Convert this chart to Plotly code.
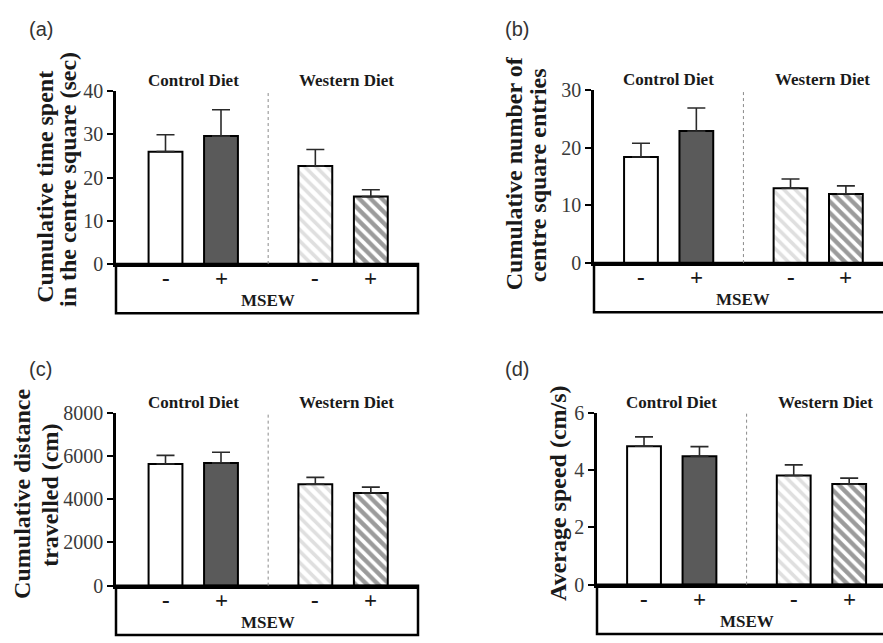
import plotly.graph_objects as go

# ---- data -------------------------------------------------------------
groups = ["CD MSEW-", "CD MSEW+", "WD MSEW-", "WD MSEW+"]
msew_labels = ["-", "+", "-", "+"]
bar_x = [1.0, 2.0, 3.7, 4.7]          # bar slots (control pair, western pair)
diet_labels = ["Control Diet", "Western Diet"]
diet_x = [1.5, 4.27]
divider_x = 2.85

time_centre = [26.0, 29.6, 22.7, 15.6]
time_centre_sem = [3.9, 6.1, 3.8, 1.6]

entries_centre = [18.4, 22.9, 13.0, 12.0]
entries_centre_sem = [2.4, 4.0, 1.6, 1.4]

distance = [5630, 5680, 4690, 4290]
distance_sem = [400, 490, 320, 270]

speed = [4.83, 4.48, 3.81, 3.51]
speed_sem = [0.33, 0.34, 0.37, 0.21]

# ---- styling ----------------------------------------------------------
W, H = 883, 643
SERIF = "Liberation Serif"
SANS = "Liberation Sans"
bar_styles = [
    dict(color="white"),
    dict(color="#5a5a5a"),
    dict(color="white", pattern=dict(shape="\\", fgcolor="#c0c0c0",
                                     bgcolor="white", size=8, solidity=0.45)),
    dict(color="white", pattern=dict(shape="\\", fgcolor="#383838",
                                     bgcolor="white", size=8, solidity=0.55)),
]

# panel geometry in pixels: axis left/right, top and zero line
panels = [
    dict(name="a", left=116, right=418, top=83, bottom=262, xr=[0.108, 5.55],
         y=time_centre, err=time_centre_sem, ymax=40, dtick=10,
         title=["Cumulative time spent", "in the centre square (sec)"],
         tx=[45, 68], ty=[182, 175], lab=(27, 19)),
    dict(name="b", left=594, right=883, top=82, bottom=261, xr=[0.152, 5.37],
         y=entries_centre, err=entries_centre_sem, ymax=30, dtick=10,
         title=["Cumulative number of", "centre square entries"],
         tx=[514, 538], ty=[168, 170], lab=(503, 19)),
    dict(name="c", left=116, right=418, top=416, bottom=595, xr=[0.108, 5.55],
         y=distance, err=distance_sem, ymax=8000, dtick=2000,
         title=["Cumulative distance", "travelled (cm)"],
         tx=[22, 50], ty=[500, 502], lab=(27, 371)),
    dict(name="d", left=597, right=883, top=416, bottom=594, xr=[0.152, 5.31],
         y=speed, err=speed_sem, ymax=6, dtick=2,
         title=["Average speed (cm/s)"],
         tx=[558], ty=[500], lab=(503, 371)),
]

fig = go.Figure()
layout = dict(width=W, height=H, autosize=False,
              margin=dict(l=0, r=0, t=0, b=0),
              paper_bgcolor="white", plot_bgcolor="white",
              showlegend=False, barmode="overlay")
shapes, annotations = [], []

for i, p in enumerate(panels):
    n = "" if i == 0 else str(i + 1)
    xa, ya = "x" + n, "y" + n
    ph = p["bottom"] - p["top"]

    for k in range(len(bar_x)):
        fig.add_trace(go.Bar(
            x=[bar_x[k]], y=[p["y"][k]], width=0.61, xaxis=xa, yaxis=ya,
            name=groups[k],
            marker=dict(line=dict(color="black", width=2), **bar_styles[k]),
            error_y=dict(type="data", symmetric=False, array=[p["err"][k]],
                         arrayminus=[0], color="#2a2a2a", thickness=1.6,
                         width=9),
            hoverinfo="skip",
        ))

    layout["xaxis" + n] = dict(
        domain=[p["left"] / W, min(p["right"] / W, 1.0)], range=p["xr"],
        anchor=ya, showline=True, linewidth=3, linecolor="black",
        showticklabels=False, ticks="", showgrid=False, zeroline=False,
        fixedrange=True)
    layout["yaxis" + n] = dict(
        domain=[1 - p["bottom"] / H, 1 - p["top"] / H],
        range=[0, p["ymax"]], tick0=0, dtick=p["dtick"], anchor=xa,
        showline=True, linewidth=2.5, linecolor="black",
        ticks="outside", ticklen=6, tickwidth=2, tickcolor="black",
        tickfont=dict(family=SERIF, size=20, color="#3a3a3a"),
        showgrid=False, zeroline=False, fixedrange=True)

    # frame below the baseline holding the MSEW labels
    shapes.append(dict(type="rect", xref=xa + " domain", yref=ya + " domain",
                       x0=0, x1=1.0 if p["right"] < W else 1.05,
                       y0=0, y1=-51 / ph,
                       line=dict(color="black", width=2.5),
                       fillcolor="rgba(0,0,0,0)"))
    # dotted separator between the two diets
    shapes.append(dict(type="line", xref=xa, yref=ya + " domain",
                       x0=divider_x, x1=divider_x, y0=0, y1=1,
                       line=dict(color="#8a8a8a", width=1, dash="dot")))

    for lbl, dx in zip(diet_labels, diet_x):
        annotations.append(dict(text="<b>" + lbl + "</b>", xref=xa,
                                yref=ya + " domain",
                                x=dx, y=1 + 11 / ph, showarrow=False,
                                xanchor="center", yanchor="middle",
                                font=dict(family=SERIF, size=17,
                                          color="#1a1a1a")))
    for lbl, bx in zip(msew_labels, bar_x):
        annotations.append(dict(text="<b>" + lbl + "</b>", xref=xa,
                                yref=ya + " domain",
                                x=bx, y=-15 / ph, showarrow=False,
                                xanchor="center", yanchor="middle",
                                font=dict(family=SERIF, size=23,
                                          color="#1a1a1a")))
    annotations.append(dict(text="<b>MSEW</b>", xref=xa, yref=ya + " domain",
                            x=divider_x, y=-38 / ph, showarrow=False,
                            xanchor="center", yanchor="middle",
                            font=dict(family=SERIF, size=17,
                                      color="#1a1a1a")))

    for line, lx, ly in zip(p["title"], p["tx"], p["ty"]):
        annotations.append(dict(text="<b>" + line + "</b>", xref="paper",
                                yref="paper",
                                x=lx / W, y=1 - ly / H, textangle=-90,
                                showarrow=False, xanchor="center",
                                yanchor="middle",
                                font=dict(family=SERIF, size=24,
                                          color="#1a1a1a")))

    annotations.append(dict(text="(" + p["name"] + ")", xref="paper",
                            yref="paper", x=p["lab"][0] / W,
                            y=1 - p["lab"][1] / H, showarrow=False,
                            xanchor="left", yanchor="middle",
                            font=dict(family=SANS, size=20, color="#333333")))

layout["shapes"] = shapes
layout["annotations"] = annotations
fig.update_layout(**layout)

fig.write_html("out.html")
